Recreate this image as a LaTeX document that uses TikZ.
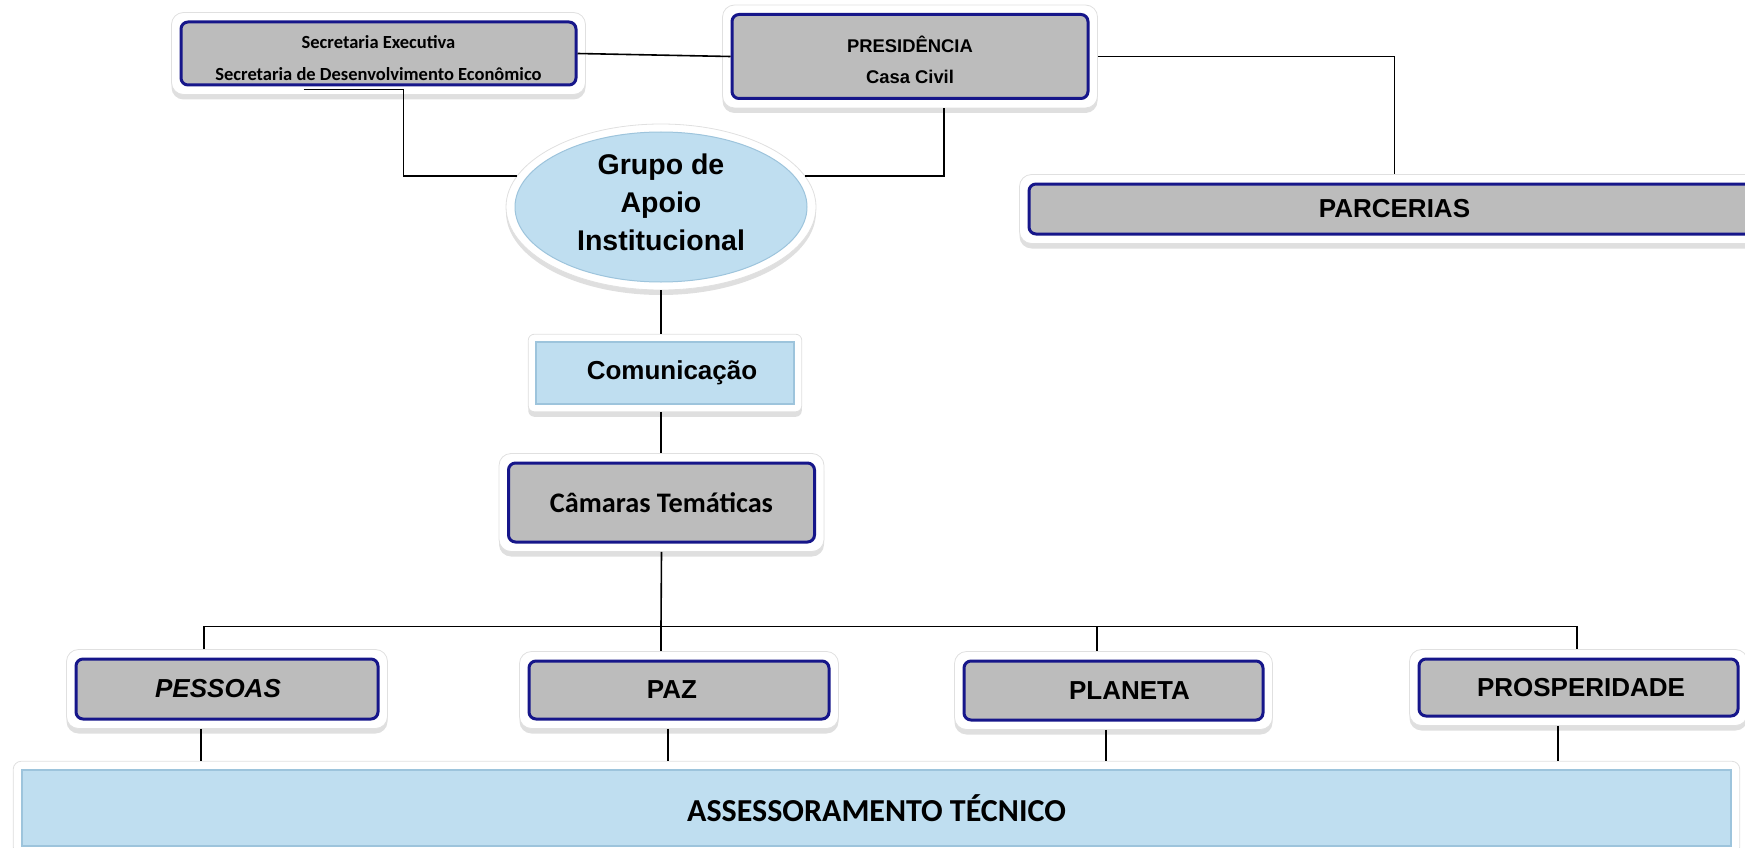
\documentclass[tikz,border=0pt]{standalone}
\usepackage{fontspec}
\setmainfont{Liberation Sans}
\newfontfamily\calfont{Carlito}
\usetikzlibrary{shapes.geometric,shadows,fit,backgrounds}
\definecolor{boxgray}{HTML}{BCBCBC}
\definecolor{navyb}{HTML}{16168A}
\definecolor{lblue}{HTML}{BFDEF0}
\definecolor{lblueedge}{HTML}{9DC4DC}
\begin{document}
\begin{tikzpicture}[x=1pt,y=-1pt,
  graybox/.style={rectangle, rounded corners=7pt, draw=navyb, line width=3pt, fill=boxgray,
    inner sep=0pt, align=center, font=\bfseries\fontsize{26}{30}\selectfont},
  bluebox/.style={rectangle, draw=lblueedge, line width=1.5pt, fill=lblue, inner sep=0pt, align=center},
  framebox/.style={rectangle, rounded corners=12pt, fill=white, draw=black!12, line width=0.8pt,
    inner sep=8pt, drop shadow={shadow xshift=0pt, shadow yshift=-5pt, opacity=0.25}},
  link/.style={draw=black, line width=1.6pt}]
\useasboundingbox (0,0) rectangle (1745,848);

% main nodes
\node[graybox, minimum width=395pt, minimum height=63pt, font=\calfont\bfseries\fontsize{18.5}{32}\selectfont] (sec) at (378.5,53.5)
  {\raisebox{-9pt}[0pt][0pt]{\begin{tabular}{@{}c@{}}Secretaria Executiva\\Secretaria de Desenvolvimento Econômico\end{tabular}}};
\node[graybox, minimum width=356pt, minimum height=84pt, font=\bfseries\fontsize{18.4}{31}\selectfont] (pres) at (910,56.5)
  {\raisebox{-10pt}[0pt][0pt]{\begin{tabular}{@{}c@{}}PRESIDÊNCIA\\Casa Civil\end{tabular}}};
\node[ellipse, fill=lblue, draw=lblueedge, line width=1pt, minimum width=292pt, minimum height=150pt, inner sep=0pt,
  font=\bfseries\fontsize{28.5}{38}\selectfont] (gai) at (661,207)
  {\raisebox{-4pt}[0pt][0pt]{\begin{tabular}{@{}c@{}}Grupo de\\Apoio\\Institucional\end{tabular}}};
\node[bluebox, minimum width=258pt, minimum height=62pt, font=\bfseries\fontsize{26}{30}\selectfont] (com) at (665,373) {\hspace*{14pt}Comunicação};
\node[graybox, minimum width=306pt, minimum height=79pt, font=\calfont\bfseries\fontsize{28.3}{32}\selectfont] (cam) at (661.5,502.5) {Câmaras Temáticas};
\node[graybox, minimum width=731pt, minimum height=50pt] (par) at (1394.5,209) {PARCERIAS};
\node[graybox, minimum width=302pt, minimum height=60pt, font=\bfseries\itshape\fontsize{26}{30}\selectfont] (pes) at (227,689) {PESSOAS\hspace*{18pt}};
\node[graybox, minimum width=300pt, minimum height=58pt] (paz) at (679,690) {PAZ\hspace*{14pt}};
\node[graybox, minimum width=299pt, minimum height=59pt] (pla) at (1113.5,690.5) {\hspace*{32pt}PLANETA};
\node[graybox, minimum width=319pt, minimum height=57pt] (pro) at (1578.5,687.5) {\hspace*{5pt}PROSPERIDADE};
\node[bluebox, minimum width=1709pt, minimum height=76pt, font=\calfont\bfseries\fontsize{32}{34}\selectfont] (ass) at (876.5,808) {ASSESSORAMENTO TÉCNICO};

% white frames with shadows
\begin{scope}[on background layer]
  \node[framebox, fit=(sec)] (secF) {};
  \node[framebox, fit=(pres)] (presF) {};
  \node[ellipse, fill=white, draw=black!12, line width=0.8pt, minimum width=310pt, minimum height=166pt,
    drop shadow={shadow xshift=0pt, shadow yshift=-5pt, opacity=0.25}] (gaiF) at (gai.center) {};
  \node[framebox, rounded corners=6pt, inner sep=7pt, fit=(com)] (comF) {};
  \node[framebox, fit=(cam)] (camF) {};
  \node[framebox, fit=(par)] (parF) {};
  \node[framebox, fit=(pes)] (pesF) {};
  \node[framebox, fit=(paz)] (pazF) {};
  \node[framebox, fit=(pla)] (plaF) {};
  \node[framebox, fit=(pro)] (proF) {};
  \node[framebox, rounded corners=8pt, fit=(ass)] (assF) {};
\end{scope}

% connectors
\coordinate (bus) at (661,626.5);
\coordinate (u1) at ([xshift=-23pt]pesF.north);
\coordinate (u3) at ([xshift=-16.5pt]plaF.north);
\coordinate (u4) at ([xshift=-1.5pt]proF.north);
\coordinate (d1) at ([xshift=-26pt]pesF.south);
\coordinate (d2) at ([xshift=-11pt]pazF.south);
\coordinate (d3) at ([xshift=-7.5pt]plaF.south);
\coordinate (d4) at ([xshift=-20.5pt]proF.south);

\draw[link] (sec.east) -- (pres.west);
\draw[link] (presF.east) -| (parF.north);
\draw[link] ([xshift=-75pt,yshift=-3pt]sec.south) -- ([xshift=25pt,yshift=-3pt]sec.south) |- (gaiF.168);
\draw[link] ([xshift=34pt]presF.south) |- (gaiF.12);
\draw[link] (gaiF.south) -- (gaiF.south |- comF.north);
\draw[link] (gaiF.south |- comF.south) -- (gaiF.south |- camF.north);
\draw[link] (camF.south) -- (bus);
\draw[link] (u1) |- (u4 |- bus) -- (u4);
\draw[link] (bus) -- (bus |- pazF.north);
\draw[link] (u3 |- bus) -- (u3);
\draw[link] (d1) -- (d1 |- assF.north);
\draw[link] (d2) -- (d2 |- assF.north);
\draw[link] (d3) -- (d3 |- assF.north);
\draw[link] (d4) -- (d4 |- assF.north);
\end{tikzpicture}
\end{document}
